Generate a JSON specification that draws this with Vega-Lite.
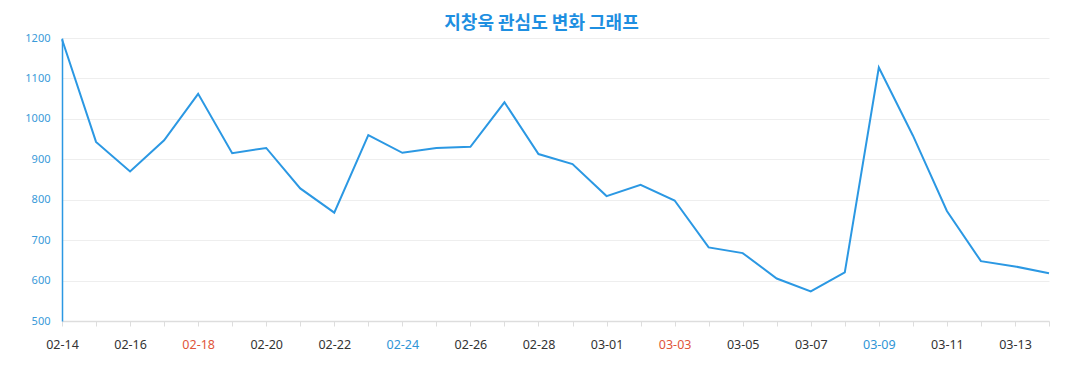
{
  "$schema": "https://vega.github.io/schema/vega-lite/v6.json",
  "width": 987,
  "height": 283,
  "autosize": "none",
  "padding": {"left": 62, "top": 38, "right": 28, "bottom": 69},
  "background": "white",
  "title": {
    "text": "지창욱 관심도 변화 그래프",
    "font": "Noto Sans CJK KR",
    "fontSize": 18,
    "fontWeight": "bold",
    "color": "#1e8fe1",
    "anchor": "middle",
    "dx": -14,
    "offset": -1
  },
  "config": {"view": {"stroke": null}},
  "data": {
    "values": [
      {"date": "02-14", "value": 1197},
      {"date": "02-15", "value": 943},
      {"date": "02-16", "value": 870},
      {"date": "02-17", "value": 947},
      {"date": "02-18", "value": 1062},
      {"date": "02-19", "value": 915},
      {"date": "02-20", "value": 928},
      {"date": "02-21", "value": 828},
      {"date": "02-22", "value": 768},
      {"date": "02-23", "value": 960},
      {"date": "02-24", "value": 916},
      {"date": "02-25", "value": 928},
      {"date": "02-26", "value": 931},
      {"date": "02-27", "value": 1041},
      {"date": "02-28", "value": 913},
      {"date": "02-29", "value": 888},
      {"date": "03-01", "value": 809},
      {"date": "03-02", "value": 837},
      {"date": "03-03", "value": 798},
      {"date": "03-04", "value": 682},
      {"date": "03-05", "value": 668},
      {"date": "03-06", "value": 605},
      {"date": "03-07", "value": 573},
      {"date": "03-08", "value": 620},
      {"date": "03-09", "value": 1127},
      {"date": "03-10", "value": 959},
      {"date": "03-11", "value": 772},
      {"date": "03-12", "value": 648},
      {"date": "03-13", "value": 635},
      {"date": "03-14", "value": 618}
    ]
  },
  "mark": {"type": "line", "color": "#2b98e3", "strokeWidth": 2},
  "encoding": {
    "x": {
      "field": "date",
      "type": "ordinal",
      "scale": {"type": "point", "padding": 0},
      "axis": {
        "title": null,
        "labelAngle": 0,
        "labelFont": "Noto Sans",
        "labelFontSize": 12.5,
        "labelColor": {
          "condition": [
            {"test": "datum.value == '02-18' || datum.value == '03-03'", "value": "#e0553a"},
            {"test": "datum.value == '02-24' || datum.value == '03-09'", "value": "#2f95d6"}
          ],
          "value": "#333333"
        },
        "labelExpr": "indexof(['02-14','02-16','02-18','02-20','02-22','02-24','02-26','02-28','03-01','03-03','03-05','03-07','03-09','03-11','03-13'], datum.value) >= 0 ? datum.value : ''",
        "labelOverlap": false,
        "labelPadding": 12,
        "domainColor": "#dddddd",
        "domainWidth": 1.5,
        "tickColor": "#dddddd",
        "tickSize": 5,
        "grid": false
      }
    },
    "y": {
      "field": "value",
      "type": "quantitative",
      "scale": {"domain": [500, 1200], "nice": false, "zero": false},
      "axis": {
        "title": null,
        "format": "d",
        "values": [500, 600, 700, 800, 900, 1000, 1100, 1200],
        "labelFont": "Noto Sans",
        "labelFontSize": 11,
        "labelColor": "#3a9ad9",
        "labelPadding": 12,
        "ticks": false,
        "domainColor": "#2b98e3",
        "domainWidth": 1.5,
        "gridColor": "#eeeeee",
        "gridWidth": 1
      }
    }
  }
}
